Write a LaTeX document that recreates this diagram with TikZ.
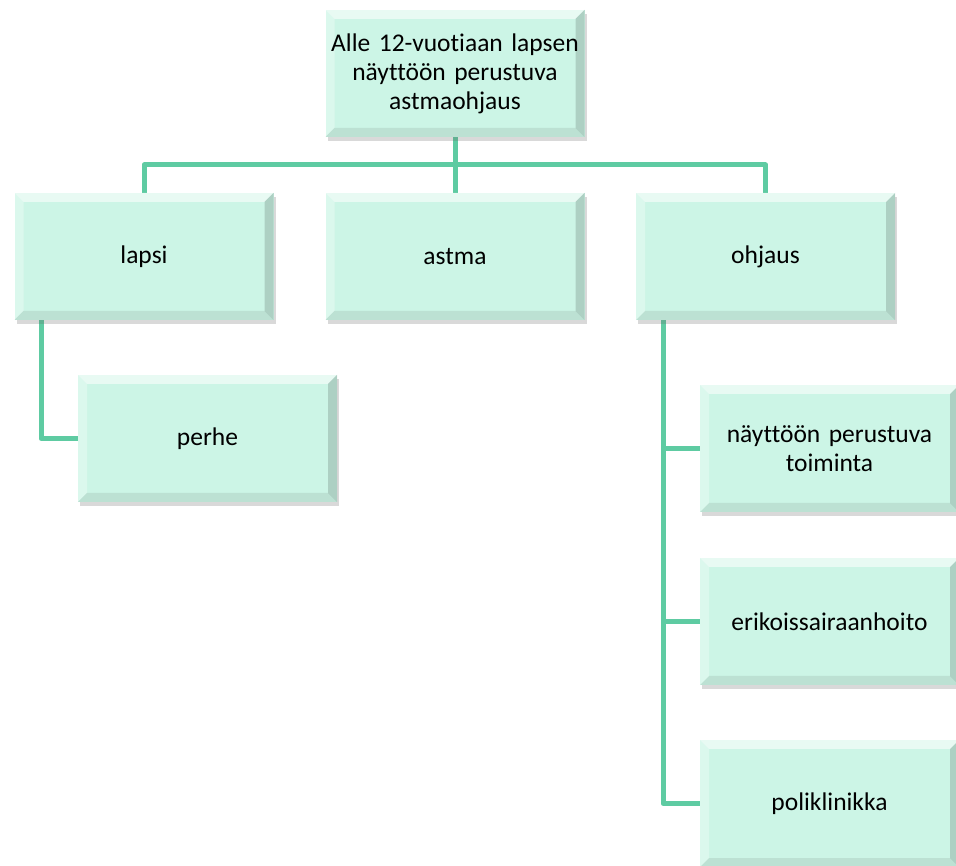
\documentclass[tikz,border=0pt]{standalone}
\usepackage{fontspec}
\setmainfont{Carlito}[Ligatures=NoCommon]
\usetikzlibrary{calc,shadows,backgrounds}
\definecolor{boxfill}{RGB}{204,245,230}
\definecolor{linkc}{RGB}{94,203,162}
\tikzset{
  box/.style={rectangle, fill=boxfill, minimum width=259pt, minimum height=127pt,
    inner sep=2pt, align=center, text width=255pt,
    font=\fontsize{25.5}{29}\selectfont,
    drop shadow={shadow xshift=2pt, shadow yshift=-4pt, opacity=0.25, fill=black!60},
    path picture={
      \coordinate (NW) at (path picture bounding box.north west);
      \coordinate (NE) at (path picture bounding box.north east);
      \coordinate (SW) at (path picture bounding box.south west);
      \coordinate (SE) at (path picture bounding box.south east);
      \fill[white,opacity=0.55] (NW) -- (NE) -- ($(NE)+(-9,-9)$) -- ($(NW)+(9,-9)$) -- cycle;
      \fill[white,opacity=0.3] (NW) -- ($(NW)+(9,-9)$) -- ($(SW)+(9,9)$) -- (SW) -- cycle;
      \fill[black,opacity=0.08] (SW) -- (SE) -- ($(SE)+(-9,9)$) -- ($(SW)+(9,9)$) -- cycle;
      \fill[black,opacity=0.15] (NE) -- (SE) -- ($(SE)+(-9,9)$) -- ($(NE)+(-9,-9)$) -- cycle;
    }},
  link/.style={draw=linkc, line width=5pt, line join=round}
}
\begin{document}
\begin{tikzpicture}[x=1pt,y=1pt]
\useasboundingbox (0,0) rectangle (956,865);
\node[box] (top) at (455,791.5) {Alle 12-vuotiaan lapsen\\näyttöön perustuva\\astmaohjaus};
\node[box] (lapsi) at (144,608.5) {lapsi};
\node[box] (astma) at (455,608.5) {astma};
\node[box] (ohjaus) at (765.5,608.5) {ohjaus};
\node[box] (perhe) at (207.5,426.5) {perhe};
\node[box] (n1) at (829.5,416.5) {näyttöön perustuva\\toiminta};
\node[box] (n2) at (829.5,243.5) {erikoissairaanhoito};
\node[box] (n3) at (829.5,61.5) {poliklinikka};
\coordinate (bar) at (455,700);
\coordinate (lb) at (41,545);
\coordinate (ob) at (663,545);
\begin{scope}[on background layer]
\draw[link] (lapsi.north) |- (bar) -| (ohjaus.north);
\draw[link] (top.south) -- (astma.north);
\draw[link] (lb) |- (perhe.west);
\draw[link] (ob) |- (n1.west);
\draw[link] (ob) |- (n2.west);
\draw[link] (ob) |- (n3.west);
\end{scope}
\end{tikzpicture}
\end{document}
